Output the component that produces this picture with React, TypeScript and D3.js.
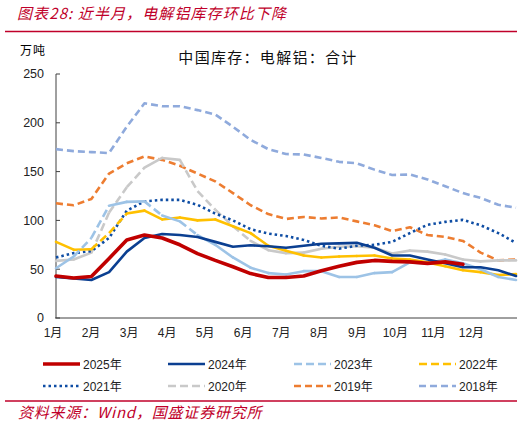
import * as d3 from "d3";

// two-week sampling across the year
const weeks = [0, 2, 4, 6, 8, 10, 12, 14, 16, 18, 20, 22, 24, 26, 28, 30, 32, 34, 36, 38, 40, 42, 44, 46, 48, 50, 52];
const months = ["1月", "2月", "3月", "4月", "5月", "6月", "7月", "8月", "9月", "10月", "11月", "12月"];
const yTicks = [0, 50, 100, 150, 200, 250];

const v2025 = [43, 41, 42.5, 61, 80, 85, 82, 75, 66, 59, 52.5, 45.5, 41.5, 41.5, 43, 48.5, 53, 57, 59, 58, 57.5, 56, 57.5, 55];
const v2024 = [42, 40.5, 39, 47, 68, 82, 86, 85, 83, 78, 73, 74.5, 73.5, 72, 74, 76, 76.5, 77, 72, 64, 64, 60, 56, 52, 52, 49, 43];
const v2023 = [51, 63, 82, 115, 119, 119.5, 105, 99, 85, 75, 62, 51.5, 46, 44.5, 48, 48, 42, 42, 46, 47, 57, 56, 60, 56, 50, 42, 39];
const v2022 = [78, 70, 70.5, 87, 107, 110, 101, 103, 100, 101, 94, 87, 74, 69, 64, 62, 63, 63.5, 64, 61, 60, 57, 53, 49, 47, 44, 45];
const v2021 = [62, 66.5, 68.5, 82, 110, 119.5, 121, 121, 116, 107, 100, 91, 86.5, 84, 80, 74, 71, 74, 75, 78, 87, 95.5, 98.5, 100.5, 95, 87, 77];
const v2020 = [58.5, 60, 67, 108, 134, 154, 164, 162, 130, 111, 94, 79, 69.5, 66.5, 67, 71, 73, 73.5, 72, 66, 69, 68, 65, 60, 58, 59, 59];
const v2019 = [117.5, 115.5, 122, 148, 158.5, 165.5, 162, 156, 148, 140, 128, 115.5, 106.5, 101.5, 103.5, 102, 103, 99, 95, 89, 93, 85, 83, 79, 67, 59, 60];
const v2018 = [173, 171, 170, 169, 196, 220, 217, 217, 213, 208.5, 196, 182.5, 173, 168, 167.5, 164, 160, 158.5, 152, 146.5, 147, 142, 135, 128, 123, 116, 113];

type Mode = "solid" | "dash" | "seg";
interface Series {
  name: string;
  values: number[];
  color: string;
  width: number;
  mode: Mode;
  dash?: string;
}

const SERIES: Series[] = [
  { name: "2025年", values: v2025, color: "#C00000", width: 3.6, mode: "solid" },
  { name: "2024年", values: v2024, color: "#0B3F91", width: 2.6, mode: "solid" },
  { name: "2023年", values: v2023, color: "#9DC3E6", width: 2.6, mode: "seg", dash: "8,4" },
  { name: "2022年", values: v2022, color: "#FFC000", width: 2.6, mode: "seg", dash: "8,4" },
  { name: "2021年", values: v2021, color: "#0E4DA4", width: 2.6, mode: "dash", dash: "2.5,3" },
  { name: "2020年", values: v2020, color: "#C9C9C9", width: 2.6, mode: "seg", dash: "8,4" },
  { name: "2019年", values: v2019, color: "#ED7D31", width: 2.6, mode: "dash", dash: "7,4" },
  { name: "2018年", values: v2018, color: "#8FAADC", width: 2.6, mode: "dash", dash: "7,4" },
];

const W = 531;
const H = 426;
const LATIN = "'Liberation Sans', Arial, 'Noto Sans CJK SC', sans-serif";
const CJK = "'Noto Sans CJK SC', 'Liberation Sans', sans-serif";
const RED = "#C0002A";

export default function App() {
  const x = d3.scaleLinear().domain([0, 52]).range([56, 516]);
  const y = d3.scaleLinear().domain([0, 250]).range([318, 74]);

  const line = d3
    .line<number>()
    .x((_, i) => x(weeks[i]))
    .y((d) => y(d));

  // draw from back (2018) to front (2025)
  const drawOrder = [...SERIES].reverse();

  const legendCols = [43, 168, 294, 419];
  const legendRows = [364, 386];

  return (
    <svg
      width={W}
      height={H}
      viewBox={`0 0 ${W} ${H}`}
      style={{ position: "absolute", left: 0, top: 0, background: "#fff" }}
    >
      {/* header */}
      <text x={17} y={19} fill={RED} fontFamily={CJK} fontSize={15} fontStyle="italic" letterSpacing={1.1}>
        图表28: 近半月，电解铝库存环比下降
      </text>
      <line x1={5} x2={517} y1={31.5} y2={31.5} stroke={RED} strokeWidth={1.6} />

      <text x={20} y={55} fill="#000" fontFamily={CJK} fontSize={12} letterSpacing={1}>
        万吨
      </text>
      <text x={268} y={63} fill="#111" fontFamily={CJK} fontSize={15} textAnchor="middle" letterSpacing={1.3}>
        中国库存：电解铝：合计
      </text>

      {/* y axis */}
      <line x1={56} x2={56} y1={y(250)} y2={y(0)} stroke="#404040" strokeWidth={1} />
      {yTicks.map((t) => (
        <g key={t}>
          <line x1={56} x2={60} y1={y(t)} y2={y(t)} stroke="#404040" strokeWidth={1} />
          <text x={44} y={y(t) + 4.3} textAnchor="end" fontFamily={LATIN} fontSize={12.5} fill="#222">
            {t}
          </text>
        </g>
      ))}

      {/* x axis */}
      <line x1={55} x2={517} y1={y(0)} y2={y(0)} stroke="#404040" strokeWidth={1} />
      {months.map((m, k) => (
        <text
          key={m}
          x={x(k * 4.3) - 3}
          y={337}
          textAnchor="middle"
          fontFamily={LATIN}
          fontSize={12}
          fill="#222"
        >
          {m}
        </text>
      ))}

      {/* series */}
      {drawOrder.map((s) => {
        if (s.mode !== "seg") {
          return (
            <path
              key={s.name}
              d={line(s.values) ?? ""}
              fill="none"
              stroke={s.color}
              strokeWidth={s.width}
              strokeDasharray={s.mode === "dash" ? s.dash : undefined}
              strokeLinejoin="round"
              strokeLinecap={s.mode === "solid" ? "round" : "butt"}
            />
          );
        }
        // dash pattern restarts on each segment: only long (steep) segments show gaps
        return (
          <g key={s.name}>
            {s.values.slice(1).map((v, i) => {
              const x1 = x(weeks[i]);
              const y1 = y(s.values[i]);
              const x2 = x(weeks[i + 1]);
              const y2 = y(v);
              const len = Math.hypot(x2 - x1, y2 - y1);
              const steep = len > 22;
              return (
                <line
                  key={i}
                  x1={x1}
                  y1={y1}
                  x2={x2}
                  y2={y2}
                  stroke={s.color}
                  strokeWidth={s.width}
                  strokeDasharray={steep ? s.dash : undefined}
                  strokeLinecap={steep ? "butt" : "round"}
                />
              );
            })}
          </g>
        );
      })}

      {/* legend */}
      {SERIES.map((s, i) => {
        const lx = legendCols[i % 4];
        const ly = legendRows[Math.floor(i / 4)];
        return (
          <g key={s.name}>
            <line
              x1={lx}
              x2={lx + 37}
              y1={ly}
              y2={ly}
              stroke={s.color}
              strokeWidth={s.width}
              strokeDasharray={s.mode === "solid" ? undefined : s.dash}
            />
            <text x={lx + 40} y={ly + 4.5} fontFamily={LATIN} fontSize={12} fill="#222">
              {s.name}
            </text>
          </g>
        );
      })}

      {/* footer */}
      <line x1={5} x2={517} y1={401} y2={401} stroke={RED} strokeWidth={1.6} />
      <text x={18} y={418} fill={RED} fontFamily={CJK} fontSize={15} fontStyle="italic" letterSpacing={0.8}>
        资料来源：Wind，国盛证券研究所
      </text>
    </svg>
  );
}
